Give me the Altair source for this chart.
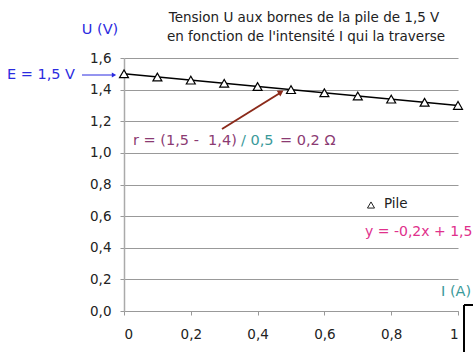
import altair as alt
import pandas as pd

# Data
I_vals = [0, 0.1, 0.2, 0.3, 0.4, 0.5, 0.6, 0.7, 0.8, 0.9, 1.0]
U_vals = [1.50, 1.48, 1.46, 1.44, 1.42, 1.40, 1.38, 1.36, 1.34, 1.32, 1.30]
fit_I = [0.0, 1.0]
fit_U = [1.50, 1.30]
x_ticks = [0, 0.2, 0.4, 0.6, 0.8, 1.0]
y_ticks = [0, 0.2, 0.4, 0.6, 0.8, 1.0, 1.2, 1.4, 1.6]

FONT = "DejaVu Sans"
df = pd.DataFrame({"I": I_vals, "U": U_vals})
fit = pd.DataFrame({"I": fit_I, "U": fit_U})

xs = alt.Scale(domain=[0, 1], nice=False)
ys = alt.Scale(domain=[0, 1.6], nice=False)

x_axis = alt.Axis(
    values=x_ticks, format="~g", labelOverlap=False,
    labelExpr="replace(datum.label, '.', ',')", grid=False,
    domainColor="#999", tickColor="#999", tickSize=4, labelPadding=12,
    labelFont=FONT, labelFontSize=13.5, labelColor="#222", title=None)
y_axis = alt.Axis(
    values=y_ticks, format=".1f", labelOverlap=False, tickCount=9,
    labelExpr="replace(datum.label, '.', ',')", grid=True, gridColor="#999",
    domainColor="#aaa", domainWidth=1.5, tickColor="#999", tickSize=4, labelPadding=9,
    labelFont=FONT, labelFontSize=13.5, labelColor="#222", title=None)

line = alt.Chart(fit).mark_line(color="black", strokeWidth=1.5).encode(
    x=alt.X("I:Q", scale=xs, axis=x_axis), y=alt.Y("U:Q", scale=ys, axis=y_axis)
)

points = alt.Chart(df).mark_point(
    shape="triangle-up", filled=True, fill="white", stroke="black", strokeWidth=1.2, size=80, opacity=1
).encode(
    x=alt.X("I:Q", scale=xs, axis=x_axis),
    y=alt.Y("U:Q", scale=ys, axis=y_axis),
)

def txt(text, x, y, color="#222", size=13, align="left"):
    return alt.Chart(pd.DataFrame({"t": [text]})).mark_text(
        font=FONT, fontSize=size, color=color, align=align, baseline="middle"
    ).encode(text="t:N", x=alt.value(x), y=alt.value(y))

def rule(x1, y1, x2, y2, color, w):
    return alt.Chart(pd.DataFrame({"a": [0]})).mark_rule(color=color, strokeWidth=w).encode(
        x=alt.value(x1), y=alt.value(y1), x2=alt.value(x2), y2=alt.value(y2))

def head(x, y, angle, color, size):
    return alt.Chart(pd.DataFrame({"a": [0]})).mark_point(
        shape="triangle-up", filled=True, color=color, size=size, angle=angle, opacity=1
    ).encode(x=alt.value(x), y=alt.value(y))

L, T = 124, 58
blue = "#2b2be0"
purple = "#8b3a72"
teal = "#3a9a9a"

layers = [
    line, points,
    txt("Tension U aux bornes de la pile de 1,5 V", 304 - L, 18 - T, size=13.5, align="center"),
    txt("en fonction de l'intensité I qui la traverse", 306 - L, 37 - T, size=13.5, align="center"),
    txt("U (V)", 100 - L, 30 - T, color=blue, size=14.5, align="center"),
    txt("E = 1,5 V", 75 - L, 75 - T, color=blue, size=14.5, align="right"),
    rule(82 - L, 75 - T, 114 - L, 75 - T, blue, 1),
    head(114 - L, 75 - T, 90, blue, 25),
    rule(222 - L, 129 - T, 280 - L, 93 - T, "#8b2a1a", 2),
    head(281 - L, 92 - T, 58, "#8b2a1a", 45),
    txt("r = (1,5 -\u00a0 1,4)", 133 - L, 141 - T, color=purple, size=14.5),
    txt("/ 0,5", 241 - L, 141 - T, color=teal, size=14.5),
    txt("= 0,2 Ω", 280 - L, 141 - T, color=purple, size=14.5),
    alt.Chart(pd.DataFrame({"a": [0]})).mark_point(
        shape="triangle-up", filled=False, stroke="#222", strokeWidth=1, size=50, opacity=1
    ).encode(x=alt.value(371 - L), y=alt.value(205 - T)),
    txt("Pile", 384 - L, 204 - T, size=13.5),
    txt("y = -0,2x + 1,5", 365 - L, 232 - T, color="#e0308c", size=14),
    txt("I (A)", 441 - L, 292 - T, color=teal, size=14.5),
    rule(464 - L, 305 - T, 464 - L, 352 - T, "black", 2),
    rule(464 - L, 305 - T, 480 - L, 305 - T, "black", 2),
]

chart = alt.layer(*layers).properties(
    width=334, height=253,
    autosize=alt.AutoSizeParams(type="none"),
    padding={"left": L, "top": T, "right": 15, "bottom": 41},
    background="white",
).configure_view(stroke=None)

chart.save("out.html", embed_options={"renderer": "svg", "actions": False})
